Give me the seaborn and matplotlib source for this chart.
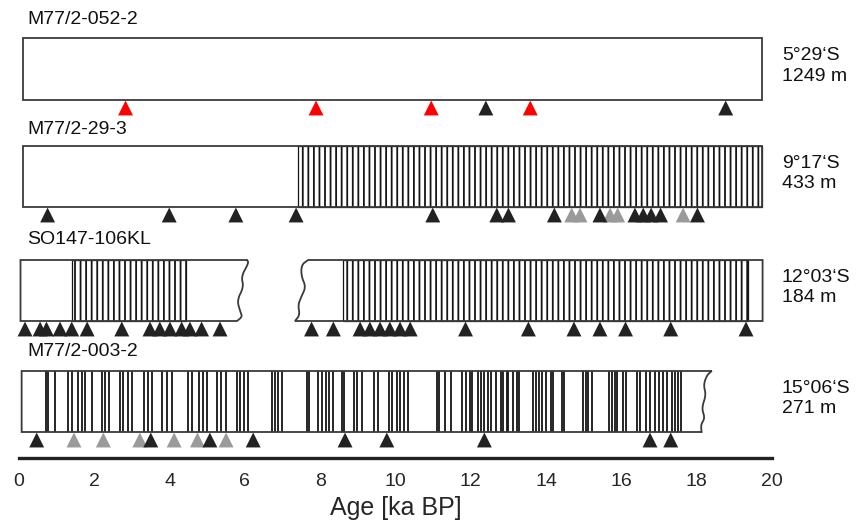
import numpy as np
import pandas as pd
import seaborn as sns
import matplotlib.pyplot as plt
from matplotlib.patches import Rectangle, Polygon

# cores, top to bottom
cores = ["M77/2-052-2", "M77/2-29-3", "SO147-106KL", "M77/2-003-2"]
lat = ["5°29‘S", "9°17‘S", "12°03‘S", "15°06‘S"]
depth = ["1249 m", "433 m", "184 m", "271 m"]

# core sections in ka BP (start, end)
sections_052 = [(0.1, 19.73)]
sections_29 = [(0.1, 19.73)]
sections_106 = [(0.04, 6.06), (7.68, 19.75)]
sections_003 = [(0.07, 18.4)]

# laminated intervals (ka BP)
lam_29 = [(7.4, 19.73)]
lam_106 = [(1.4, 4.43), (8.61, 19.37)]

# single laminae in M77/2-003-2 (ka BP)
lam_003 = [0.72, 0.78, 0.96, 1.31, 1.40, 1.58, 1.67, 1.75, 1.95, 2.21, 2.28, 2.39,
           2.68, 2.75, 2.90, 2.99, 3.33, 3.42, 3.54, 3.79, 3.92, 4.07, 4.50, 4.59,
           4.79, 4.88, 4.99, 5.27, 5.36, 5.50, 5.78, 5.87, 5.98, 6.09, 6.71, 6.80,
           6.89, 6.98, 7.64, 7.69, 7.95, 8.04, 8.15, 8.24, 8.33, 8.57, 8.63, 8.90,
           8.99, 9.10, 9.44, 9.53, 9.83, 9.90, 10.03, 10.12, 10.23, 10.34, 11.09,
           11.15, 11.31, 11.47, 11.77, 11.86, 11.98, 12.04, 12.20, 12.27, 12.36,
           12.45, 12.53, 12.66, 12.80, 12.86, 12.95, 12.99, 13.13, 13.22, 13.28,
           13.66, 13.72, 13.81, 13.90, 14.00, 14.12, 14.19, 14.41, 14.48, 14.99,
           15.06, 15.12, 15.21, 15.68, 15.74, 15.83, 15.89, 16.05, 16.12, 16.42,
           16.49, 16.65, 16.76, 16.89, 17.01, 17.11, 17.20, 17.34, 17.42, 17.51,
           17.57]

# age control points (ka BP)
dates_052_black = [12.4, 18.77]
dates_052_red = [2.83, 7.89, 10.95, 13.58]
dates_29_black = [0.76, 3.99, 5.76, 7.36, 10.99, 12.69, 13.0, 14.22, 15.43, 16.36,
                  16.58, 16.79, 17.04, 18.02]
dates_29_grey = [14.68, 14.9, 15.7, 15.9, 17.64]
dates_106_black = [0.16, 0.56, 0.73, 1.09, 1.4, 1.81, 2.73, 3.48, 3.74, 4.01, 4.32,
                   4.54, 4.85, 5.34, 7.77, 8.35, 9.06, 9.32, 9.59, 9.85, 10.12, 10.39,
                   11.86, 13.53, 14.74, 15.43, 16.11, 17.31, 19.31]
dates_003_black = [0.47, 3.5, 5.07, 6.22, 8.66, 9.77, 12.36, 16.76, 17.31]
dates_003_grey = [1.46, 2.24, 3.21, 4.12, 4.74, 5.5]

# shapes of the broken core ends (fraction of core height, offset in ka)
wave_frac_a = [0, .05, .27, .44, .66, .85, .93, 1.0]
wave_off_a = [0, .04, -.16, -.09, -.27, -.18, -.13, -.27]
wave_frac_b = [0, .08, .27, .44, .6, .74, .9, 1.0]
wave_off_b = [0, -.18, -.18, -.06, -.18, -.27, -.22, -.35]
wave_frac_c = [0, .07, .23, .39, .61, .77, .88, 1.0]
wave_off_c = [0, -.13, -.22, -.15, -.27, -.18, -.29, -.27]

# layout: pixel rows of each core (top, bottom)
rows = [(38, 100), (146, 207), (260, 321), (371, 432)]
name_y = [19, 130, 240, 352]
EDGE = "#3a3a3a"
LAM = "#151515"

sns.set_style("white")
plt.rcParams["font.family"] = ["Liberation Sans", "DejaVu Sans"]
plt.rcParams["hatch.color"] = LAM
plt.rcParams["hatch.linewidth"] = 1.3

fig = plt.figure(figsize=(8.56, 5.24), dpi=100)
ax = fig.add_axes([19 / 856, 66 / 524, 753 / 856, 458 / 524])
ax.set_xlim(0, 20)
ax.set_ylim(458, 0)


def smooth(pts, n=3):
    # chaikin corner cutting, keeps end points
    pts = np.asarray(pts, dtype=float)
    for _ in range(n):
        q = 0.75 * pts[:-1] + 0.25 * pts[1:]
        r = 0.25 * pts[:-1] + 0.75 * pts[1:]
        mid = np.empty((2 * len(q), 2))
        mid[0::2] = q
        mid[1::2] = r
        pts = np.vstack([pts[:1], mid, pts[-1:]])
    return [tuple(p) for p in pts]


def wave(x, top, bot, prof):
    fr, off = prof
    return smooth([(x + o, top + f * (bot - top)) for f, o in zip(fr, off)])


def outline(x0, x1, top, bot, left=None, right=None):
    pts = []
    if left is None:
        pts += [(x0, bot), (x0, top)]
    else:
        pts += wave(x0, top, bot, left)[::-1]
    if right is None:
        pts += [(x1, top), (x1, bot)]
    else:
        pts += wave(x1, top, bot, right)
    return pts


def draw_core(sections, waves, top, bot):
    for (x0, x1), (lw, rw) in zip(sections, waves):
        pts = outline(x0, x1, top, bot, lw, rw)
        ax.add_patch(Polygon(pts, closed=True, facecolor="white", edgecolor="none",
                             zorder=1, clip_on=False))
        ax.add_patch(Polygon(pts, closed=True, fill=False, edgecolor=EDGE,
                             linewidth=1.3, zorder=3, clip_on=False))


def draw_lam(intervals, top, bot):
    for x0, x1 in intervals:
        ax.add_patch(Rectangle((x0, top), x1 - x0, bot - top, fill=False,
                               hatch="|||", edgecolor=LAM, linewidth=0.9, zorder=2))


draw_core(sections_052, [(None, None)], *rows[0])
draw_core(sections_29, [(None, None)], *rows[1])
draw_lam(lam_29, *rows[1])
draw_core(sections_106, [(None, (wave_frac_a, wave_off_a)), ((wave_frac_b, wave_off_b), None)],
          *rows[2])
draw_lam(lam_106, *rows[2])
draw_core(sections_003, [(None, (wave_frac_c, wave_off_c))], *rows[3])
ax.vlines(lam_003, rows[3][0], rows[3][1], color=LAM, linewidth=1.3, zorder=2)

# age control points
recs = []
date_sets = [(dates_052_red, 0, "red"), (dates_29_grey, 1, "grey"), (dates_003_grey, 3, "grey"),
             (dates_052_black, 0, "black"), (dates_29_black, 1, "black"),
             (dates_106_black, 2, "black"), (dates_003_black, 3, "black")]
for ages, idx, kind in date_sets:
    for a in ages:
        recs.append({"age": a, "y": rows[idx][1] + 8, "kind": kind})
dates = pd.DataFrame(recs)
sns.scatterplot(data=dates, x="age", y="y", hue="kind", marker="^", s=115, linewidth=0,
                palette={"red": "#ff0000", "grey": "#9a9a9a", "black": "#222222"},
                legend=False, zorder=4, clip_on=False, ax=ax)

for i, name in enumerate(cores):
    ax.text(0.22, name_y[i], name, fontsize=14, va="center", ha="left", color="#111111")
    ax.text(20.26, (rows[i][0] + rows[i][1]) / 2 - 3, lat[i] + "\n" + depth[i],
            fontsize=14, va="center", ha="left", linespacing=1.3, color="#111111")

for s in ["top", "left", "right"]:
    ax.spines[s].set_visible(False)
ax.spines["bottom"].set_linewidth(2.4)
ax.spines["bottom"].set_color("#222222")
ax.set_yticks([])
ax.set_xticks(np.arange(0, 21, 2))
ax.tick_params(axis="x", direction="out", length=6, width=1.2, color="#222222", pad=5,
               labelsize=14)
ax.set_xlabel("Age [ka BP]", fontsize=18, labelpad=4)
ax.set_ylabel("")

fig.savefig("out.png", dpi=100)
